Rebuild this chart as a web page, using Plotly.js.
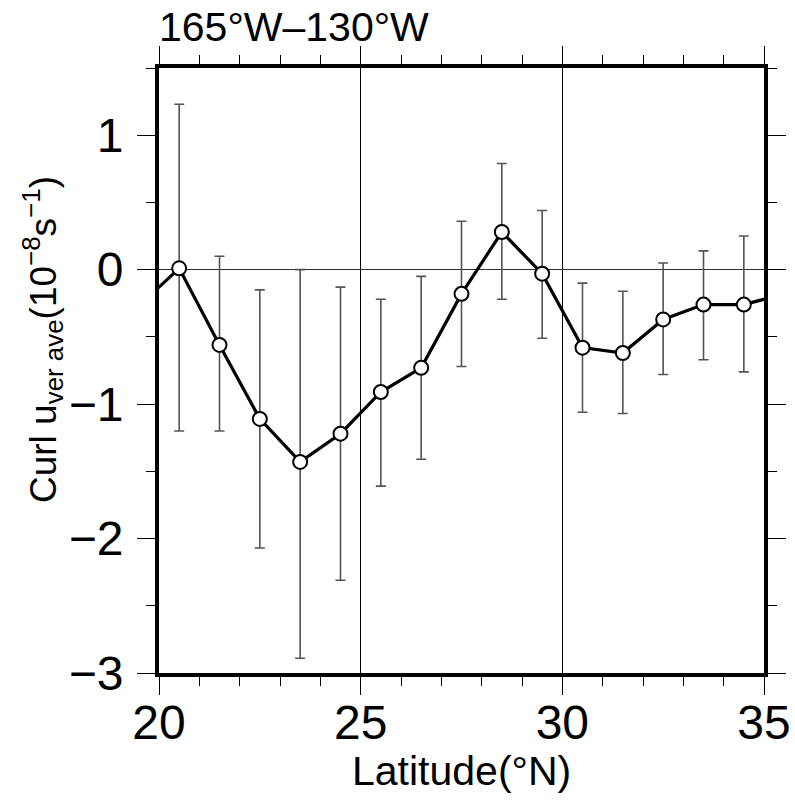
<!DOCTYPE html>
<html>
<head>
<meta charset="utf-8">
<script src="https://cdn.plot.ly/plotly-3.0.1.min.js"></script>
<style>html,body{margin:0;padding:0;background:#fff}#chart{width:795px;height:807px}</style>
</head>
<body>
<div id="chart"></div>
<script>
// Latitude centres (°N)
const latitude = [20.5, 21.5, 22.5, 23.5, 24.5, 25.5, 26.5, 27.5, 28.5, 29.5, 30.5, 31.5, 32.5, 33.5, 34.5];
// Curl u_ver ave (1e-8 s^-1)
const curl = [0.01, -0.56, -1.11, -1.43, -1.22, -0.91, -0.73, -0.18, 0.28, -0.03, -0.58, -0.62, -0.37, -0.26, -0.26];
// Error bar half-lengths
const errUp = [1.22, 0.66, 0.96, 1.43, 1.09, 0.69, 0.68, 0.54, 0.51, 0.47, 0.48, 0.46, 0.42, 0.40, 0.51];
const errDown = [1.21, 0.64, 0.96, 1.46, 1.09, 0.70, 0.68, 0.54, 0.50, 0.48, 0.48, 0.45, 0.41, 0.41, 0.50];
// Neighbouring values just outside the shown range (line continues to the frame)
const edgeLatitude = [19.5, 35.5];
const edgeCurl = [-0.27, -0.18];

const lineX = [edgeLatitude[0]].concat(latitude, [edgeLatitude[1]]);
const lineY = [edgeCurl[0]].concat(curl, [edgeCurl[1]]);

const FONT = '"Liberation Sans", Arial, Helvetica, sans-serif';

const traces = [
  {
    x: lineX, y: lineY, type: 'scatter', mode: 'lines',
    line: {color: '#000', width: 3.2}, hoverinfo: 'skip', cliponaxis: true
  },
  {
    x: latitude, y: curl, type: 'scatter', mode: 'markers',
    marker: {size: 14, color: '#fff', line: {color: '#000', width: 2}},
    error_y: {type: 'data', symmetric: false, array: errUp, arrayminus: errDown,
              color: '#555', thickness: 1.6, width: 5},
    cliponaxis: false
  }
];

const layout = {
  width: 795, height: 807,
  margin: {l: 159, r: 31, t: 68, b: 134},
  paper_bgcolor: '#fff', plot_bgcolor: '#fff',
  showlegend: false,
  font: {family: FONT, color: '#000'},
  title: {
    text: '165°W–130°W', font: {family: FONT, size: 41, color: '#000'},
    x: 0, xref: 'paper', xanchor: 'left',
    y: 1 - 27 / 807, yref: 'container', yanchor: 'middle'
  },
  xaxis: {
    range: [20, 35], tick0: 20, dtick: 5,
    ticks: 'outside', ticklen: 18, tickwidth: 1, tickcolor: '#000',
    minor: {dtick: 1, ticklen: 9, tickwidth: 1, tickcolor: '#000', showgrid: false},
    showline: true, linewidth: 4, linecolor: '#000', mirror: 'ticks',
    showgrid: true, gridcolor: '#000', gridwidth: 1,
    zeroline: false,
    tickfont: {family: FONT, size: 48, color: '#000'},
    ticklabelstandoff: -14
  },
  yaxis: {
    range: [-3, 1.5], tick0: 0, dtick: 1,
    ticks: 'outside', ticklen: 18, tickwidth: 1, tickcolor: '#000',
    minor: {dtick: 0.5, ticklen: 9, tickwidth: 1, tickcolor: '#000', showgrid: false},
    showline: true, linewidth: 4, linecolor: '#000', mirror: 'ticks',
    showgrid: false,
    zeroline: true, zerolinecolor: '#333', zerolinewidth: 1,
    tickfont: {family: FONT, size: 48, color: '#000'},
    ticklabelstandoff: 4
  },
  annotations: [
    {
      text: 'Curl u<sub>ver ave</sub>(10<sup>−8</sup>s<sup>−1</sup>)',
      font: {family: FONT, size: 37, color: '#000'},
      textangle: -90, showarrow: false,
      xref: 'paper', yref: 'paper',
      x: (42 - 159) / 605, y: (673 - 340) / 605,
      xanchor: 'center', yanchor: 'middle'
    },
    {
      text: 'Latitude(°N)',
      font: {family: FONT, size: 41, color: '#000'},
      showarrow: false,
      xref: 'paper', yref: 'paper',
      x: 0.5, y: (673 - 771) / 605,
      xanchor: 'center', yanchor: 'middle'
    }
  ]
};

Plotly.newPlot('chart', traces, layout, {displayModeBar: false, staticPlot: true});
</script>
</body>
</html>
